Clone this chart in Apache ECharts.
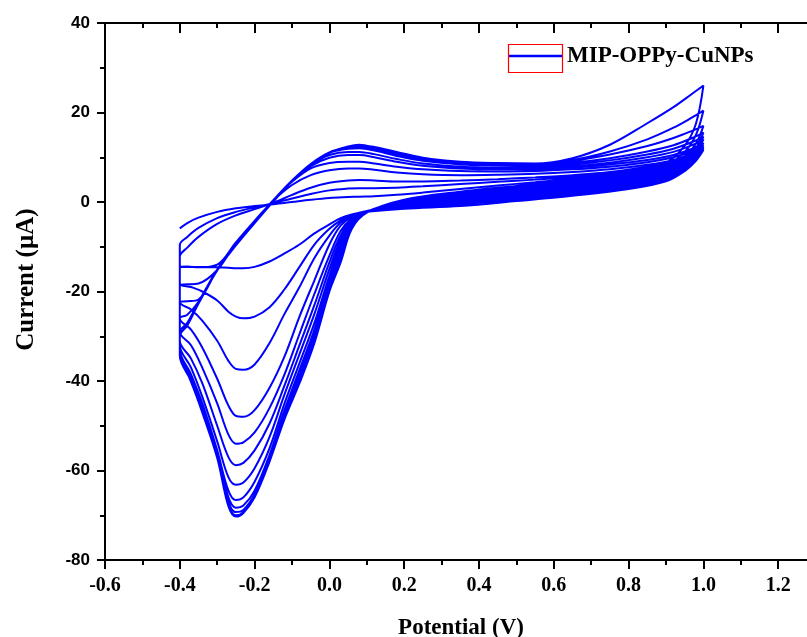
<!DOCTYPE html>
<html>
<head>
<meta charset="utf-8">
<script src="https://cdn.jsdelivr.net/npm/echarts@6/dist/echarts.min.js"></script>
<style>
  html, body { margin: 0; padding: 0; background: #fff; }
  #chart { width: 807px; height: 637px; }
</style>
</head>
<body>
<div id="chart"></div>
<script>
// Potential grids (V)
const fwdPotential = [-0.4,-0.38,-0.35,-0.3,-0.25,-0.2,-0.15,-0.1,-0.05,0.0,0.05,0.08,0.12,0.18,0.25,0.35,0.45,0.55,0.65,0.75,0.85,0.92,0.97,1.0];
const revPotential = [1.0,0.98,0.95,0.9,0.8,0.65,0.5,0.35,0.2,0.1,0.06,0.03,0.0,-0.04,-0.08,-0.12,-0.16,-0.2,-0.23,-0.25,-0.27,-0.3,-0.34,-0.37,-0.4];

// Current (µA), anodic (forward) and cathodic (reverse) scans per cycle
const cycle1Fwd = [-5.9,-4.7,-3.5,-2.2,-1.4,-0.9,-0.5,0.0,0.5,0.9,1.1,1.2,1.3,1.6,2.1,2.9,3.7,4.4,5.2,6.1,7.3,8.6,10.2,11.6];
const cycle1Rev = [11.6,9.2,6.9,4.6,2.9,1.4,0.2,-0.9,-1.5,-2.2,-2.8,-3.6,-5.0,-7.0,-9.5,-11.5,-13.3,-14.5,-14.8,-14.8,-14.7,-14.6,-14.5,-14.5,-14.5];
const cycle2Fwd = [-9.6,-7.8,-5.8,-3.6,-2.2,-1.2,-0.3,0.8,1.8,2.6,3.0,3.1,3.1,3.2,3.5,4.0,4.5,5.0,5.6,6.4,7.6,8.9,10.4,11.8];
const cycle2Rev = [11.8,9.4,7.2,5.0,3.3,1.8,0.6,-0.5,-1.3,-2.1,-2.8,-4.1,-6.0,-9.5,-14.5,-19.5,-23.5,-25.6,-26.0,-25.6,-24.5,-22.0,-20.0,-19.0,-18.2];
const cycle3Fwd = [-12.2,-10.2,-7.8,-4.9,-3.0,-1.6,-0.2,1.6,3.2,4.3,4.8,4.9,4.8,4.6,4.6,4.8,5.1,5.5,6.0,6.7,7.9,9.1,10.6,12.0];
const cycle3Rev = [12.0,9.6,7.5,5.4,3.7,2.2,1.0,-0.1,-1.0,-2.0,-3.0,-4.6,-7.5,-12.5,-19.0,-25.0,-31.5,-36.3,-37.5,-37.3,-35.5,-31.0,-26.5,-24.0,-22.3];
const cycle4Fwd = [-14.5,-14.4,-14.6,-14.0,-9.0,-4.2,0.3,3.8,6.0,7.1,7.5,7.5,7.2,6.6,6.2,6.0,6.1,6.3,6.7,7.3,8.3,9.4,10.9,12.3];
const cycle4Rev = [12.3,9.9,7.8,5.8,4.1,2.6,1.4,0.3,-0.8,-2.0,-3.3,-5.3,-9.5,-17.5,-25.6,-34.5,-41.5,-46.5,-48.0,-47.8,-45.5,-39.5,-32.5,-28.5,-26.0];
const cycle5Fwd = [-18.5,-18.4,-18.2,-15.2,-9.2,-4.3,0.4,4.5,7.5,8.7,9.0,9.0,8.6,7.9,7.3,6.9,6.8,6.9,7.3,7.9,8.9,10.0,11.4,12.7];
const cycle5Rev = [12.7,10.2,8.1,6.2,4.5,3.0,1.8,0.6,-0.6,-2.1,-3.7,-6.5,-12.0,-20.5,-29.5,-38.5,-46.0,-51.5,-53.7,-54.0,-52.0,-45.0,-37.0,-32.0,-29.0];
const cycle6Fwd = [-22.3,-22.2,-21.8,-15.1,-9.3,-4.3,0.4,4.6,8.0,9.9,10.5,10.5,10.0,9.0,8.1,7.5,7.3,7.3,7.7,8.4,9.4,10.5,11.9,13.2];
const cycle6Rev = [13.2,10.5,8.4,6.5,4.9,3.3,2.1,0.9,-0.4,-2.1,-3.9,-7.5,-13.5,-23.0,-32.0,-41.0,-49.5,-55.5,-58.3,-58.8,-57.0,-50.0,-40.5,-35.0,-31.0];
const cycle7Fwd = [-26.0,-25.2,-22.3,-15.2,-9.4,-4.4,0.4,4.7,8.3,10.5,11.2,11.2,10.7,9.6,8.6,7.9,7.6,7.6,8.0,8.8,10.0,11.2,12.7,14.0];
const cycle7Rev = [14.0,11.0,8.8,6.9,5.2,3.6,2.4,1.2,-0.2,-2.1,-4.2,-8.5,-15.0,-25.0,-34.0,-43.0,-52.5,-59.5,-62.7,-63.2,-61.5,-53.5,-43.5,-37.0,-32.0];
const cycle8Fwd = [-29.0,-27.0,-22.4,-15.1,-9.4,-4.4,0.4,4.8,8.5,11.0,11.9,12.0,11.5,10.3,9.2,8.4,8.1,8.0,8.4,9.3,10.6,11.9,13.4,14.6];
const cycle8Rev = [14.6,11.4,9.1,7.2,5.5,3.9,2.7,1.5,0.0,-2.2,-4.6,-9.5,-16.5,-27.0,-36.0,-45.0,-55.0,-62.5,-66.0,-66.6,-64.5,-55.5,-45.0,-38.5,-33.0];
const cycle9Fwd = [-30.0,-27.4,-22.5,-15.2,-9.5,-4.5,0.3,4.8,8.5,11.1,12.2,12.4,11.9,10.7,9.6,8.7,8.4,8.3,8.8,9.8,11.3,12.7,14.3,15.5];
const cycle9Rev = [15.5,12.0,9.5,7.5,5.8,4.2,3.0,1.7,0.2,-2.2,-5.0,-10.5,-17.5,-28.5,-37.5,-46.5,-56.5,-64.5,-67.8,-68.3,-66.0,-56.5,-46.0,-39.3,-33.5];
const cycle10Fwd = [-30.0,-27.5,-22.5,-15.1,-9.5,-4.5,0.3,4.8,8.5,11.0,12.3,12.6,12.1,11.0,9.8,8.9,8.6,8.5,9.2,10.6,12.5,14.3,15.9,17.0];
const cycle10Rev = [17.0,13.0,10.2,7.8,6.1,4.5,3.2,1.9,0.3,-2.3,-5.3,-11.5,-18.5,-29.5,-38.8,-47.5,-57.2,-65.3,-68.8,-69.3,-67.0,-56.8,-46.5,-39.7,-34.0];
const cycle11Fwd = [-30.0,-27.5,-22.6,-15.2,-9.6,-4.6,0.2,4.7,8.5,11.0,12.4,12.7,12.3,11.2,9.9,9.0,8.7,8.6,9.4,11.3,14.0,16.6,18.9,20.4];
const cycle11Rev = [20.4,15.0,11.2,8.2,6.4,4.7,3.4,2.1,0.4,-2.3,-5.6,-12.5,-19.3,-30.5,-39.8,-48.2,-57.6,-65.8,-69.3,-70.0,-67.6,-57.0,-46.8,-40.0,-34.3];
const cycle12Fwd = [-30.0,-27.6,-22.7,-15.3,-9.7,-4.7,0.1,4.6,8.4,11.0,12.4,12.8,12.2,10.8,9.8,9.0,8.7,8.6,9.8,12.8,17.6,21.2,24.2,26.0];
const cycle12Rev = [26.0,17.5,12.6,8.8,6.7,4.9,3.6,2.3,0.5,-2.4,-6.0,-13.5,-20.0,-31.5,-40.5,-48.5,-58.0,-66.0,-69.5,-70.3,-68.0,-57.2,-47.0,-40.2,-34.5];

const seriesName = 'MIP-OPPy-CuNPs';
const xTicks = [-0.6, 1.4, 0.2];   // min, max, interval
const yTicks = [-80, 40, 20];

const cycles = [
  [cycle1Fwd, cycle1Rev], [cycle2Fwd, cycle2Rev], [cycle3Fwd, cycle3Rev],
  [cycle4Fwd, cycle4Rev], [cycle5Fwd, cycle5Rev], [cycle6Fwd, cycle6Rev],
  [cycle7Fwd, cycle7Rev], [cycle8Fwd, cycle8Rev], [cycle9Fwd, cycle9Rev],
  [cycle10Fwd, cycle10Rev], [cycle11Fwd, cycle11Rev], [cycle12Fwd, cycle12Rev]
];
const data = [];
cycles.forEach(([f, r]) => {
  f.forEach((v, i) => data.push([fwdPotential[i], v]));
  r.forEach((v, i) => data.push([revPotential[i], v]));
});

const chart = echarts.init(document.getElementById('chart'));
const black = '#000';
const serif = '"Liberation Serif", "Times New Roman", serif';
chart.setOption({
  animation: false,
  backgroundColor: '#fff',
  grid: { left: 105, top: 23, width: 748, height: 537, outerBoundsMode: 'none', containLabel: false },
  legend: {
    data: [seriesName],
    left: 509, top: 42, padding: 0,
    icon: 'rect',
    itemWidth: 53, itemHeight: 2.5,
    textStyle: { fontFamily: serif, fontWeight: 'bold', fontSize: 23, lineHeight: 28, color: black }
  },
  graphic: [{
    type: 'rect', left: 506, top: 42, z: 100,
    shape: { width: 54, height: 28 },
    style: { fill: 'none', stroke: '#ff0000', lineWidth: 1.2 }
  }],
  xAxis: [{
    type: 'value', min: xTicks[0], max: xTicks[1], interval: xTicks[2],
    position: 'bottom',
    name: 'Potential (V)', nameLocation: 'middle', nameGap: 57,
    nameTextStyle: { fontFamily: serif, fontWeight: 'bold', fontSize: 23, color: black, padding: [0, 36, 0, 0] },
    axisLine: { show: true, onZero: false, lineStyle: { color: black, width: 2 } },
    axisTick: { show: true, inside: false, length: 9, lineStyle: { color: black, width: 2 } },
    minorTick: { show: true, splitNumber: 2, length: 5, lineStyle: { color: black, width: 2 } },
    splitLine: { show: false },
    axisLabel: { margin: 16, color: black, fontFamily: serif, fontWeight: 'bold', fontSize: 20,
      showMinLabel: true, formatter: v => v.toFixed(1) }
  }, {
    type: 'value', min: xTicks[0], max: xTicks[1], interval: xTicks[2],
    position: 'top',
    axisLine: { show: true, onZero: false, lineStyle: { color: black, width: 2 } },
    axisTick: { show: true, inside: true, length: 10, lineStyle: { color: black, width: 2 } },
    minorTick: { show: true, splitNumber: 2, length: 5, lineStyle: { color: black, width: 2 } },
    splitLine: { show: false },
    axisLabel: { show: false }
  }],
  yAxis: {
    type: 'value', min: yTicks[0], max: yTicks[1], interval: yTicks[2],
    name: 'Current (µA)', nameLocation: 'middle', nameGap: 66,
    nameTextStyle: { fontFamily: serif, fontWeight: 'bold', fontSize: 25, color: black, padding: [0, 0, 0, 24] },
    axisLine: { show: true, onZero: false, lineStyle: { color: black, width: 2 } },
    axisTick: { show: true, inside: false, length: 8, lineStyle: { color: black, width: 2 } },
    minorTick: { show: true, splitNumber: 2, length: 5, lineStyle: { color: black, width: 2 } },
    splitLine: { show: false },
    axisLabel: { margin: 15, color: black, fontFamily: '"Liberation Sans", Arial, sans-serif', fontWeight: 'bold', fontSize: 17 }
  },
  series: [{
    name: seriesName,
    type: 'line',
    data: data,
    symbol: 'none',
    showSymbol: false,
    smooth: 0.35,
    clip: true,
    lineStyle: { color: '#0000ff', width: 2 },
    itemStyle: { color: '#0000ff' }
  }]
});
</script>
</body>
</html>
